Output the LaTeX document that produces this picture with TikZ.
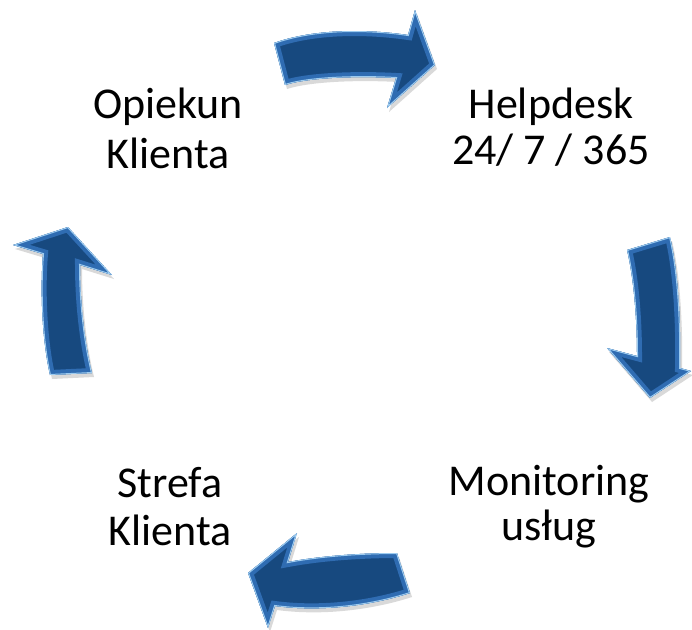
\documentclass[tikz,border=0pt]{standalone}
\usepackage{fontspec}
\setmainfont{Carlito}
\definecolor{arrmain}{HTML}{17497F}
\definecolor{arrbevel}{HTML}{2F6CB2}
\definecolor{arrlight}{HTML}{9CCBF0}
\tikzset{
  lbl/.style={align=center, inner sep=0pt, anchor=base, text=black},
  arrshadow/.style={fill=black, opacity=0.15, xshift=2pt, yshift=-4pt},
}
\newcommand\bevelarrow[1]{%
  \fill[arrshadow] #1;
  \begin{scope}
    \path[clip] #1;
    \fill[arrmain] #1;
    \draw[arrbevel, line width=10pt, line join=miter] #1;
    \draw[arrlight, line width=2pt, line join=miter] #1;
  \end{scope}
}
\begin{document}
\begin{tikzpicture}[x=1pt,y=-1pt]
\useasboundingbox (0,0) rectangle (692,629);
% labels
\node[lbl, font=\fontsize{44}{50}\selectfont] (opiekun) at (168,168) {Opiekun\\Klienta};
\node[lbl, font=\fontsize{44}{46}\selectfont] (helpdesk) at (551,164) {Helpdesk\\24/ 7 / 365};
\node[lbl, font=\fontsize{44}{45}\selectfont] (monitoring) at (549,540) {Monitoring\\usług};
\node[lbl, font=\fontsize{44}{48}\selectfont] (strefa) at (170,545) {Strefa\\Klienta};
% arrows
\bevelarrow{(274,43) .. controls (310,30) and (360,28) .. (408,35) -- (415,10) -- (435,65) -- (387,108) -- (396,78) .. controls (360,76) and (310,77) .. (285,85) -- cycle}
\bevelarrow{(627,250) -- (670,237) .. controls (678,270) and (681,320) .. (680,368) -- (691,371) -- (650,398) -- (607,348) -- (637,356) .. controls (637,320) and (634,280) .. (627,250) -- cycle}
\bevelarrow{(397,553) .. controls (360,553) and (320,556) .. (288,562) -- (297,533) -- (248,573) -- (268,628) -- (275,606) .. controls (320,612) and (370,606) .. (410,593) -- cycle}
\bevelarrow{(50,375) .. controls (42,340) and (40,290) .. (43,254) -- (13,245) -- (68,227) -- (112,275) -- (80,265) .. controls (80,300) and (84,340) .. (92,373) -- cycle}
\end{tikzpicture}
\end{document}
